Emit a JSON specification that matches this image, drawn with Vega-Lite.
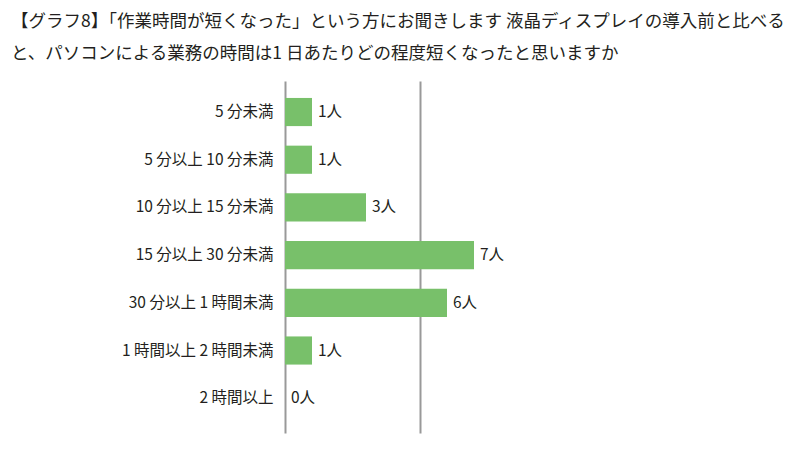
{
  "$schema": "https://vega.github.io/schema/vega-lite/v6.json",
  "autosize": {"type": "none"},
  "padding": {"left": 285, "top": 81, "right": 245, "bottom": 19},
  "width": 270,
  "height": 352,
  "background": "white",
  "config": {
    "font": "Noto Sans CJK JP",
    "view": {"stroke": null}
  },
  "title": {
    "text": [
      "【グラフ8】「作業時間が短くなった」という方にお聞きします 液晶ディスプレイの導入前と比べる",
      "と、パソコンによる業務の時間は1 日あたりどの程度短くなったと思いますか"
    ],
    "anchor": "start",
    "frame": "group",
    "dx": -274,
    "offset": 19,
    "fontSize": 17.5,
    "fontWeight": "normal",
    "lineHeight": 32,
    "color": "#231f20"
  },
  "data": {
    "values": [
      {"category": "5 分未満", "count": 1, "label": "1人"},
      {"category": "5 分以上 10 分未満", "count": 1, "label": "1人"},
      {"category": "10 分以上 15 分未満", "count": 3, "label": "3人"},
      {"category": "15 分以上 30 分未満", "count": 7, "label": "7人"},
      {"category": "30 分以上 1 時間未満", "count": 6, "label": "6人"},
      {"category": "1 時間以上 2 時間未満", "count": 1, "label": "1人"},
      {"category": "2 時間以上", "count": 0, "label": "0人"}
    ]
  },
  "encoding": {
    "y": {
      "field": "category",
      "type": "nominal",
      "sort": null,
      "title": null,
      "scale": {"paddingInner": 0.41, "paddingOuter": 0.395, "align": 0.45},
      "axis": {
        "domain": false,
        "ticks": false,
        "labelPadding": 12,
        "labelFontSize": 15.5,
        "labelColor": "#231f20"
      }
    },
    "x": {
      "field": "count",
      "type": "quantitative",
      "title": null,
      "scale": {"domain": [0, 10]},
      "axis": {
        "values": [0, 5],
        "labels": false,
        "ticks": false,
        "domain": false,
        "grid": true,
        "gridColor": "#999999",
        "gridWidth": 2,
        "gridOpacity": 1
      }
    }
  },
  "layer": [
    {
      "mark": {"type": "bar", "color": "#78c06a"}
    },
    {
      "mark": {
        "type": "text",
        "align": "left",
        "baseline": "middle",
        "dx": 6,
        "fontSize": 15.5,
        "color": "#231f20"
      },
      "encoding": {"text": {"field": "label"}}
    }
  ]
}
